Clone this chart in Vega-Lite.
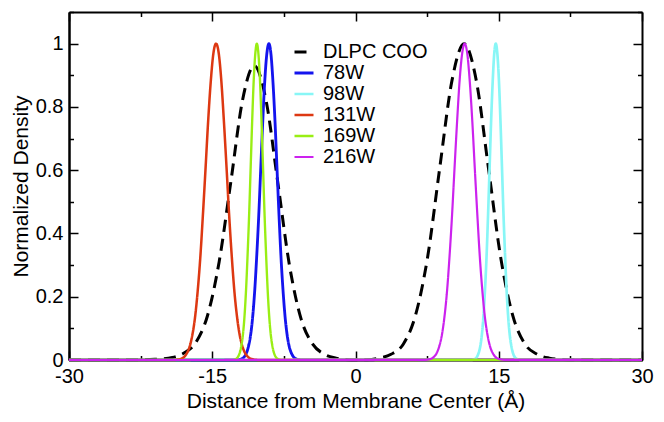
{
  "$schema": "https://vega.github.io/schema/vega-lite/v6.json",
  "width": 573,
  "height": 348,
  "autosize": "none",
  "padding": {"left": 69, "top": 12, "right": 22, "bottom": 62},
  "background": "white",
  "config": {
    "view": {"stroke": null},
    "font": "Liberation Sans",
    "axis": {"grid": false, "domainColor": "black", "domainWidth": 2, "tickColor": "black", "tickWidth": 1.5, "labelColor": "black", "titleColor": "black", "labelFont": "Liberation Sans", "titleFont": "Liberation Sans", "labelFontSize": 20, "titleFontSize": 21, "titleFontWeight": "normal", "labelFlush": false, "labelOverlap": false},
    "legend": {"labelFont": "Liberation Sans", "labelFontSize": 20, "labelColor": "black"}
  },
  "datasets": {
    "d": [
      {"s": "DLPC COO", "x": -30, "y": 0},
      {"s": "DLPC COO", "x": -23, "y": 0},
      {"s": "DLPC COO", "x": -21, "y": 0.002},
      {"s": "DLPC COO", "x": -19.18, "y": 0.008},
      {"s": "DLPC COO", "x": -17.95, "y": 0.022},
      {"s": "DLPC COO", "x": -16.73, "y": 0.055},
      {"s": "DLPC COO", "x": -15.5, "y": 0.14},
      {"s": "DLPC COO", "x": -14.28, "y": 0.31},
      {"s": "DLPC COO", "x": -13.05, "y": 0.564},
      {"s": "DLPC COO", "x": -11.83, "y": 0.821},
      {"s": "DLPC COO", "x": -10.6, "y": 0.93},
      {"s": "DLPC COO", "x": -9.37, "y": 0.821},
      {"s": "DLPC COO", "x": -8.15, "y": 0.564},
      {"s": "DLPC COO", "x": -6.93, "y": 0.302},
      {"s": "DLPC COO", "x": -5.7, "y": 0.13},
      {"s": "DLPC COO", "x": -4.48, "y": 0.05},
      {"s": "DLPC COO", "x": -3.25, "y": 0.018},
      {"s": "DLPC COO", "x": -2.03, "y": 0.006},
      {"s": "DLPC COO", "x": -0.8, "y": 0.001},
      {"s": "DLPC COO", "x": 0, "y": 0},
      {"s": "DLPC COO", "x": 1.2, "y": 0.001},
      {"s": "DLPC COO", "x": 2.45, "y": 0.006},
      {"s": "DLPC COO", "x": 3.72, "y": 0.018},
      {"s": "DLPC COO", "x": 5.0, "y": 0.05},
      {"s": "DLPC COO", "x": 6.27, "y": 0.14},
      {"s": "DLPC COO", "x": 7.55, "y": 0.325},
      {"s": "DLPC COO", "x": 8.82, "y": 0.607},
      {"s": "DLPC COO", "x": 10.1, "y": 0.883},
      {"s": "DLPC COO", "x": 11.37, "y": 1.0},
      {"s": "DLPC COO", "x": 12.65, "y": 0.883},
      {"s": "DLPC COO", "x": 13.92, "y": 0.607},
      {"s": "DLPC COO", "x": 15.2, "y": 0.325},
      {"s": "DLPC COO", "x": 16.47, "y": 0.14},
      {"s": "DLPC COO", "x": 17.75, "y": 0.05},
      {"s": "DLPC COO", "x": 19.02, "y": 0.018},
      {"s": "DLPC COO", "x": 20.3, "y": 0.006},
      {"s": "DLPC COO", "x": 21.5, "y": 0.002},
      {"s": "DLPC COO", "x": 23, "y": 0},
      {"s": "DLPC COO", "x": 30, "y": 0},

      {"s": "78W", "x": -30, "y": 0},
      {"s": "78W", "x": -12.47, "y": 0.0003},
      {"s": "78W", "x": -12.05, "y": 0.0022},
      {"s": "78W", "x": -11.62, "y": 0.0111},
      {"s": "78W", "x": -11.41, "y": 0.0228},
      {"s": "78W", "x": -11.2, "y": 0.0439},
      {"s": "78W", "x": -10.98, "y": 0.0796},
      {"s": "78W", "x": -10.77, "y": 0.1353},
      {"s": "78W", "x": -10.56, "y": 0.2163},
      {"s": "78W", "x": -10.35, "y": 0.3247},
      {"s": "78W", "x": -10.13, "y": 0.4578},
      {"s": "78W", "x": -9.92, "y": 0.6065},
      {"s": "78W", "x": -9.71, "y": 0.7548},
      {"s": "78W", "x": -9.5, "y": 0.8825},
      {"s": "78W", "x": -9.28, "y": 0.9692},
      {"s": "78W", "x": -9.07, "y": 1.0},
      {"s": "78W", "x": -8.86, "y": 0.9692},
      {"s": "78W", "x": -8.65, "y": 0.8825},
      {"s": "78W", "x": -8.43, "y": 0.7548},
      {"s": "78W", "x": -8.22, "y": 0.6065},
      {"s": "78W", "x": -8.01, "y": 0.4578},
      {"s": "78W", "x": -7.8, "y": 0.3247},
      {"s": "78W", "x": -7.58, "y": 0.2163},
      {"s": "78W", "x": -7.37, "y": 0.1353},
      {"s": "78W", "x": -7.16, "y": 0.0796},
      {"s": "78W", "x": -6.95, "y": 0.0439},
      {"s": "78W", "x": -6.73, "y": 0.0228},
      {"s": "78W", "x": -6.52, "y": 0.0111},
      {"s": "78W", "x": -6.1, "y": 0.0022},
      {"s": "78W", "x": -5.67, "y": 0.0003},
      {"s": "78W", "x": 30, "y": 0},

      {"s": "98W", "x": -30, "y": 0},
      {"s": "98W", "x": 12.09, "y": 0.0003},
      {"s": "98W", "x": 12.42, "y": 0.0022},
      {"s": "98W", "x": 12.74, "y": 0.0111},
      {"s": "98W", "x": 12.9, "y": 0.0228},
      {"s": "98W", "x": 13.07, "y": 0.0439},
      {"s": "98W", "x": 13.23, "y": 0.0796},
      {"s": "98W", "x": 13.39, "y": 0.1353},
      {"s": "98W", "x": 13.55, "y": 0.2163},
      {"s": "98W", "x": 13.72, "y": 0.3247},
      {"s": "98W", "x": 13.88, "y": 0.4578},
      {"s": "98W", "x": 14.04, "y": 0.6065},
      {"s": "98W", "x": 14.2, "y": 0.7548},
      {"s": "98W", "x": 14.37, "y": 0.8825},
      {"s": "98W", "x": 14.53, "y": 0.9692},
      {"s": "98W", "x": 14.69, "y": 1.0},
      {"s": "98W", "x": 14.85, "y": 0.9692},
      {"s": "98W", "x": 15.02, "y": 0.8825},
      {"s": "98W", "x": 15.18, "y": 0.7548},
      {"s": "98W", "x": 15.34, "y": 0.6065},
      {"s": "98W", "x": 15.5, "y": 0.4578},
      {"s": "98W", "x": 15.67, "y": 0.3247},
      {"s": "98W", "x": 15.83, "y": 0.2163},
      {"s": "98W", "x": 15.99, "y": 0.1353},
      {"s": "98W", "x": 16.15, "y": 0.0796},
      {"s": "98W", "x": 16.32, "y": 0.0439},
      {"s": "98W", "x": 16.48, "y": 0.0228},
      {"s": "98W", "x": 16.64, "y": 0.0111},
      {"s": "98W", "x": 16.97, "y": 0.0022},
      {"s": "98W", "x": 17.29, "y": 0.0003},
      {"s": "98W", "x": 30, "y": 0},

      {"s": "131W", "x": -30, "y": 0},
      {"s": "131W", "x": -19.0, "y": 0.0003},
      {"s": "131W", "x": -18.45, "y": 0.0022},
      {"s": "131W", "x": -17.9, "y": 0.0111},
      {"s": "131W", "x": -17.63, "y": 0.0228},
      {"s": "131W", "x": -17.35, "y": 0.0439},
      {"s": "131W", "x": -17.08, "y": 0.0796},
      {"s": "131W", "x": -16.8, "y": 0.1353},
      {"s": "131W", "x": -16.53, "y": 0.2163},
      {"s": "131W", "x": -16.25, "y": 0.3247},
      {"s": "131W", "x": -15.98, "y": 0.4578},
      {"s": "131W", "x": -15.7, "y": 0.6065},
      {"s": "131W", "x": -15.43, "y": 0.7548},
      {"s": "131W", "x": -15.15, "y": 0.8825},
      {"s": "131W", "x": -14.88, "y": 0.9692},
      {"s": "131W", "x": -14.6, "y": 1.0},
      {"s": "131W", "x": -14.32, "y": 0.9692},
      {"s": "131W", "x": -14.05, "y": 0.8825},
      {"s": "131W", "x": -13.78, "y": 0.7548},
      {"s": "131W", "x": -13.5, "y": 0.6065},
      {"s": "131W", "x": -13.23, "y": 0.4578},
      {"s": "131W", "x": -12.95, "y": 0.3247},
      {"s": "131W", "x": -12.68, "y": 0.2163},
      {"s": "131W", "x": -12.4, "y": 0.1353},
      {"s": "131W", "x": -12.13, "y": 0.0796},
      {"s": "131W", "x": -11.85, "y": 0.0439},
      {"s": "131W", "x": -11.58, "y": 0.0228},
      {"s": "131W", "x": -11.3, "y": 0.0111},
      {"s": "131W", "x": -10.75, "y": 0.0022},
      {"s": "131W", "x": -10.2, "y": 0.0003},
      {"s": "131W", "x": 30, "y": 0},

      {"s": "169W", "x": -30, "y": 0},
      {"s": "169W", "x": -12.93, "y": 0.0003},
      {"s": "169W", "x": -12.6, "y": 0.0022},
      {"s": "169W", "x": -12.28, "y": 0.0111},
      {"s": "169W", "x": -12.12, "y": 0.0228},
      {"s": "169W", "x": -11.96, "y": 0.0439},
      {"s": "169W", "x": -11.79, "y": 0.0796},
      {"s": "169W", "x": -11.63, "y": 0.1353},
      {"s": "169W", "x": -11.47, "y": 0.2163},
      {"s": "169W", "x": -11.31, "y": 0.3247},
      {"s": "169W", "x": -11.14, "y": 0.4578},
      {"s": "169W", "x": -10.98, "y": 0.6065},
      {"s": "169W", "x": -10.82, "y": 0.7548},
      {"s": "169W", "x": -10.66, "y": 0.8825},
      {"s": "169W", "x": -10.49, "y": 0.9692},
      {"s": "169W", "x": -10.33, "y": 1.0},
      {"s": "169W", "x": -10.17, "y": 0.9692},
      {"s": "169W", "x": -10.0, "y": 0.8825},
      {"s": "169W", "x": -9.84, "y": 0.7548},
      {"s": "169W", "x": -9.68, "y": 0.6065},
      {"s": "169W", "x": -9.52, "y": 0.4578},
      {"s": "169W", "x": -9.35, "y": 0.3247},
      {"s": "169W", "x": -9.19, "y": 0.2163},
      {"s": "169W", "x": -9.03, "y": 0.1353},
      {"s": "169W", "x": -8.87, "y": 0.0796},
      {"s": "169W", "x": -8.7, "y": 0.0439},
      {"s": "169W", "x": -8.54, "y": 0.0228},
      {"s": "169W", "x": -8.38, "y": 0.0111},
      {"s": "169W", "x": -8.05, "y": 0.0022},
      {"s": "169W", "x": -7.73, "y": 0.0003},
      {"s": "169W", "x": 30, "y": 0},

      {"s": "216W", "x": -30, "y": 0},
      {"s": "216W", "x": 7.19, "y": 0.0003},
      {"s": "216W", "x": 7.72, "y": 0.0022},
      {"s": "216W", "x": 8.25, "y": 0.0111},
      {"s": "216W", "x": 8.52, "y": 0.0228},
      {"s": "216W", "x": 8.78, "y": 0.0439},
      {"s": "216W", "x": 9.05, "y": 0.0796},
      {"s": "216W", "x": 9.31, "y": 0.1353},
      {"s": "216W", "x": 9.58, "y": 0.2163},
      {"s": "216W", "x": 9.84, "y": 0.3247},
      {"s": "216W", "x": 10.11, "y": 0.4578},
      {"s": "216W", "x": 10.37, "y": 0.6065},
      {"s": "216W", "x": 10.64, "y": 0.7548},
      {"s": "216W", "x": 10.9, "y": 0.8825},
      {"s": "216W", "x": 11.17, "y": 0.9692},
      {"s": "216W", "x": 11.43, "y": 1.0},
      {"s": "216W", "x": 11.7, "y": 0.9692},
      {"s": "216W", "x": 11.96, "y": 0.8825},
      {"s": "216W", "x": 12.23, "y": 0.7548},
      {"s": "216W", "x": 12.49, "y": 0.6065},
      {"s": "216W", "x": 12.76, "y": 0.4578},
      {"s": "216W", "x": 13.02, "y": 0.3247},
      {"s": "216W", "x": 13.29, "y": 0.2163},
      {"s": "216W", "x": 13.55, "y": 0.1353},
      {"s": "216W", "x": 13.82, "y": 0.0796},
      {"s": "216W", "x": 14.08, "y": 0.0439},
      {"s": "216W", "x": 14.35, "y": 0.0228},
      {"s": "216W", "x": 14.61, "y": 0.0111},
      {"s": "216W", "x": 15.14, "y": 0.0022},
      {"s": "216W", "x": 15.67, "y": 0.0003},
      {"s": "216W", "x": 30, "y": 0}
    ]
  },
  "data": {"name": "d"},
  "layer": [
    {
      "mark": {"type": "line", "opacity": 0, "strokeWidth": 0},
      "encoding": {
        "x": {"field": "x", "type": "quantitative", "scale": {"domain": [-30, 30], "nice": false, "zero": false},
          "axis": {"orient": "top", "title": null, "values": [-30, -22.5, -15, -7.5, 0, 7.5, 15, 22.5, 30], "labels": false,
            "tickSize": {"condition": {"test": "abs(datum.value % 15) < 0.01", "value": -9}, "value": -4.5}}},
        "y": {"field": "y", "type": "quantitative", "scale": {"domain": [0, 1.1], "nice": false, "zero": false},
          "axis": {"orient": "right", "title": null, "values": [0, 0.1, 0.2, 0.3, 0.4, 0.5, 0.6, 0.7, 0.8, 0.9, 1.0, 1.1], "labels": false,
            "tickSize": {"condition": {"test": "abs(round(datum.value*10) % 2) == 0", "value": -9}, "value": -4.5}}}
      }
    },
    {
      "mark": {"type": "line", "opacity": 0, "strokeWidth": 0},
      "encoding": {
        "x": {"field": "x", "type": "quantitative",
          "axis": {"orient": "bottom", "title": null, "values": [-30, -22.5, -15, -7.5, 0, 7.5, 15, 22.5, 30], "labels": false,
            "tickSize": {"condition": {"test": "abs(datum.value % 15) < 0.01", "value": -9}, "value": -4.5}}},
        "y": {"field": "y", "type": "quantitative",
          "axis": {"orient": "left", "title": null, "values": [0, 0.1, 0.2, 0.3, 0.4, 0.5, 0.6, 0.7, 0.8, 0.9, 1.0, 1.1], "labels": false,
            "tickSize": {"condition": {"test": "abs(round(datum.value*10) % 2) == 0", "value": -9}, "value": -4.5}}}
      }
    },
    {
      "mark": {"type": "line", "interpolate": "monotone"},
      "encoding": {
        "x": {"field": "x", "type": "quantitative",
          "axis": {"orient": "bottom", "title": "Distance from Membrane Center (Å)", "values": [-30, -15, 0, 15, 30], "ticks": false,
            "labelExpr": "'' + datum.value",
            "labelPadding": 6, "titlePadding": 4}},
        "y": {"field": "y", "type": "quantitative",
          "axis": {"orient": "left", "title": "Normalized Density", "values": [0, 0.2, 0.4, 0.6, 0.8, 1.0], "ticks": false,
            "labelExpr": "'' + round(datum.value*10)/10",
            "labelPadding": 6, "titleX": -38, "titleY": 174}},
        "color": {"field": "s", "type": "nominal", "sort": null,
          "scale": {"domain": ["DLPC COO", "78W", "98W", "131W", "169W", "216W"], "range": ["#000000", "#1414ee", "#88f6f6", "#dd3812", "#99ee14", "#cc22ee"]},
          "legend": {"title": null, "orient": "none", "legendX": 224, "legendY": 29, "symbolType": "stroke", "symbolSize": 361, "symbolStrokeWidth": 2.5, "labelOffset": 8, "rowPadding": 0, "padding": 0}},
        "strokeDash": {"field": "s", "type": "nominal", "sort": null,
          "scale": {"domain": ["DLPC COO", "78W", "98W", "131W", "169W", "216W"], "range": [[12, 7], [1, 0], [1, 0], [1, 0], [1, 0], [1, 0]]},
          "legend": {"title": null, "orient": "none", "legendX": 224, "legendY": 29, "symbolType": "stroke", "symbolSize": 361, "symbolStrokeWidth": 2.5, "labelOffset": 8, "rowPadding": 0, "padding": 0}},
        "strokeWidth": {"field": "s", "type": "nominal", "sort": null,
          "scale": {"domain": ["DLPC COO", "78W", "98W", "131W", "169W", "216W"], "range": [3, 2.2, 2.2, 2.2, 2.2, 2.2]},
          "legend": null}
      }
    }
  ],
  "resolve": {"axis": {"x": "independent", "y": "independent"}}
}
